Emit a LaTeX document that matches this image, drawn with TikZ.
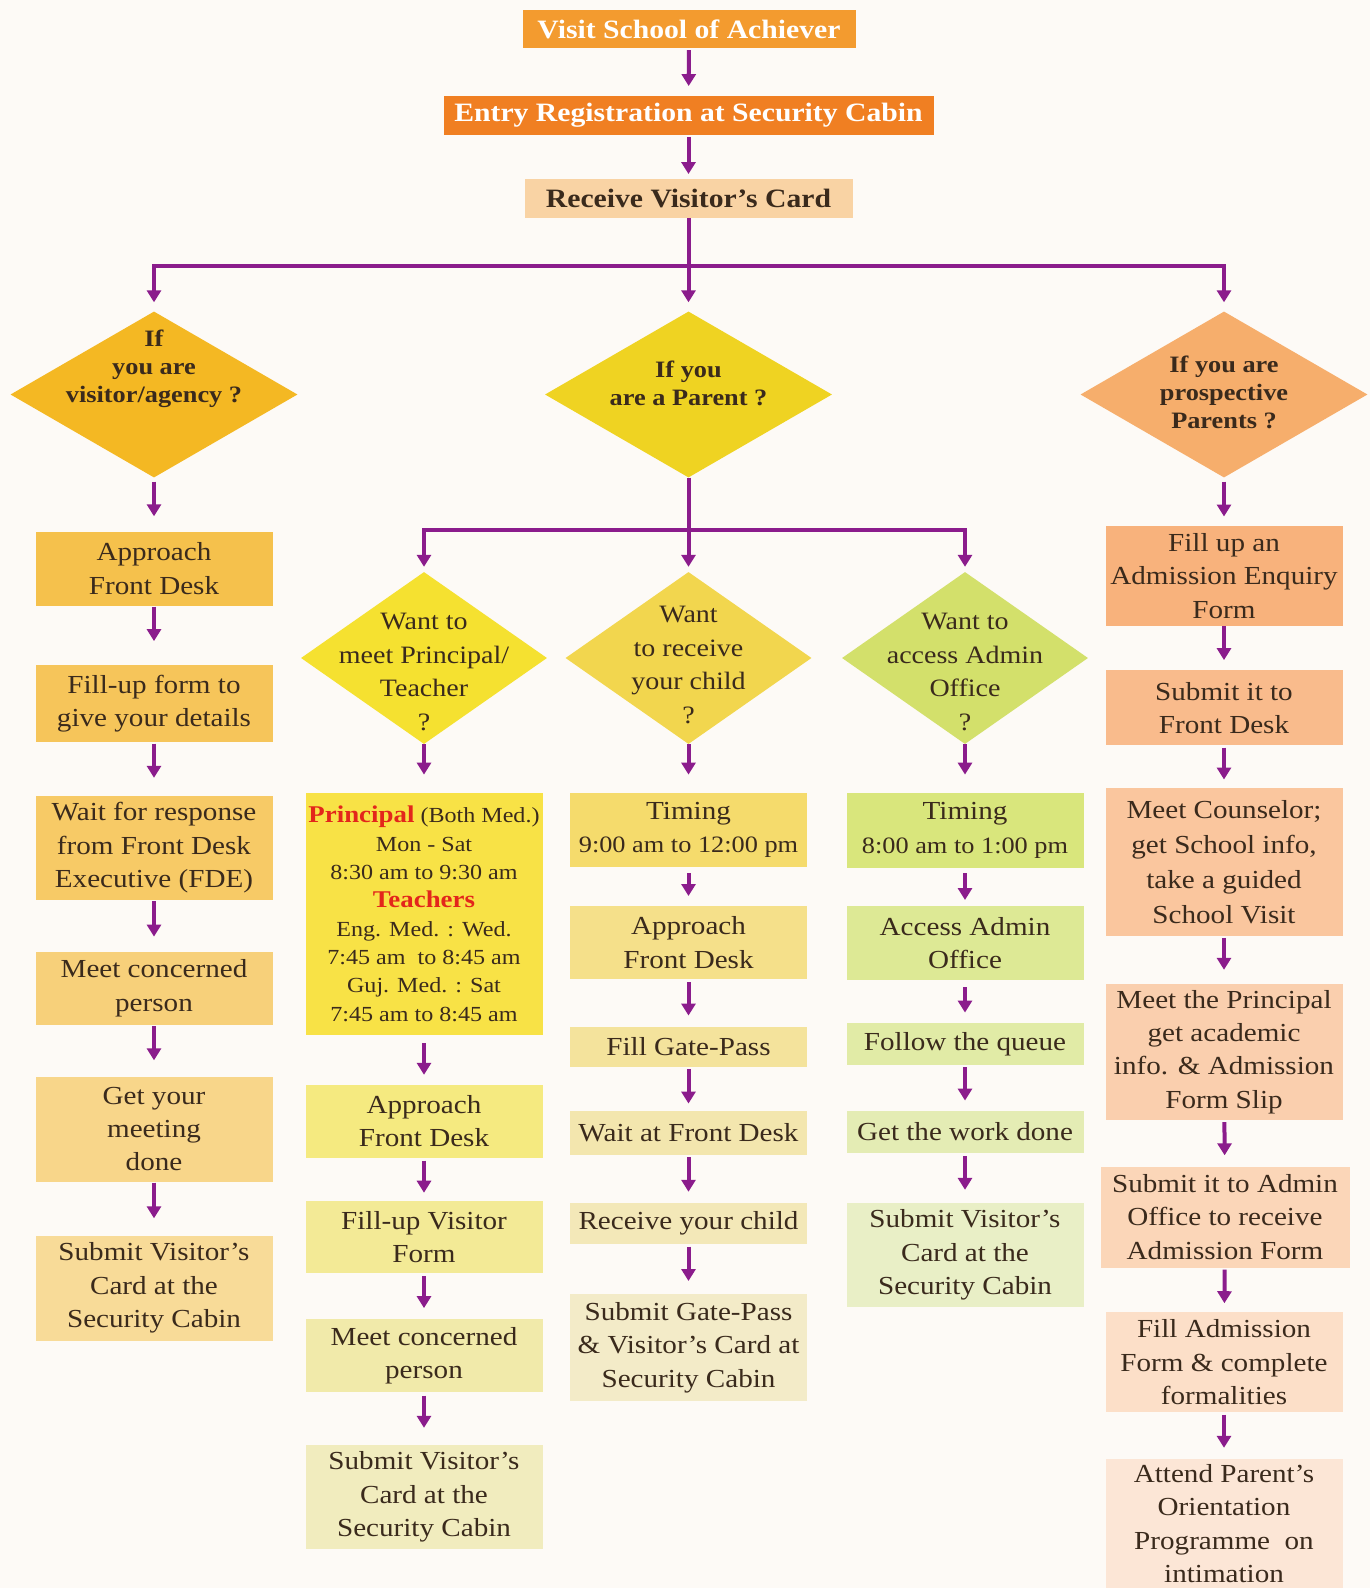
\documentclass[tikz,border=0pt]{standalone}
\usepackage{fontspec}
\setmainfont{Liberation Serif}[FakeStretch=1.12]
\usetikzlibrary{arrows.meta,shapes.geometric}
\definecolor{bgc}{HTML}{FDFAF6}
\definecolor{txt}{HTML}{3A2A1C}
\definecolor{purp}{HTML}{8B1C8C}
\definecolor{redt}{HTML}{E3261B}
\definecolor{cVisit}{HTML}{F39B2F}
\definecolor{cEntry}{HTML}{F07F22}
\definecolor{cRecv}{HTML}{F9D3A4}
\definecolor{dA}{HTML}{F4B823}
\definecolor{dB}{HTML}{EFD322}
\definecolor{dC}{HTML}{F6AE6C}
\definecolor{eA}{HTML}{F5E130}
\definecolor{eB}{HTML}{F2D64E}
\definecolor{eC}{HTML}{D3E06B}
\definecolor{a1c}{HTML}{F5C14C}
\definecolor{a2c}{HTML}{F6C55A}
\definecolor{a3c}{HTML}{F7CA66}
\definecolor{a4c}{HTML}{F7D07A}
\definecolor{a5c}{HTML}{F8D68A}
\definecolor{a6c}{HTML}{F8DB98}
\definecolor{b1c}{HTML}{F8E246}
\definecolor{b2c}{HTML}{F5EA80}
\definecolor{b3c}{HTML}{F3EA96}
\definecolor{b4c}{HTML}{F1EAAA}
\definecolor{b5c}{HTML}{F1ECBE}
\definecolor{c1c}{HTML}{F5DB6C}
\definecolor{c2c}{HTML}{F5E08A}
\definecolor{c3c}{HTML}{F4E39C}
\definecolor{c4c}{HTML}{F3E6AE}
\definecolor{c5c}{HTML}{F3E8B8}
\definecolor{c6c}{HTML}{F3EBC8}
\definecolor{f1c}{HTML}{D9E67C}
\definecolor{f2c}{HTML}{DDE995}
\definecolor{f3c}{HTML}{E1EBA6}
\definecolor{f4c}{HTML}{E4ECB4}
\definecolor{f5c}{HTML}{E9EFC6}
\definecolor{g1c}{HTML}{F8B27C}
\definecolor{g2c}{HTML}{F9BB8C}
\definecolor{g3c}{HTML}{FAC69E}
\definecolor{g4c}{HTML}{FACFAE}
\definecolor{g5c}{HTML}{FBD6B8}
\definecolor{g6c}{HTML}{FCDFC8}
\definecolor{g7c}{HTML}{FCE6D6}
\begin{document}
\begin{tikzpicture}[x=1pt,y=-1pt,
  box/.style={rectangle, inner sep=0pt, align=center, text=txt,
    font=\fontsize{26}{33.4}\selectfont, minimum width=237pt},
  topbox/.style={rectangle, inner sep=0pt, align=center, text=white,
    font=\fontsize{26.5}{30}\selectfont\bfseries},
  dia/.style={diamond, inner sep=0pt, text=txt},
  dtxt1/.style={inner sep=0pt, align=center, text=txt, font=\fontsize{23.5}{28}\selectfont\bfseries},
  dtxt2/.style={inner sep=0pt, align=center, text=txt, font=\fontsize{25}{33.4}\selectfont},
  ln/.style={draw=purp, line width=4pt},
  arr/.style={draw=purp, line width=4pt, -{Triangle[width=14pt,length=12pt]}}]

\fill[bgc] (0,0) rectangle (1370,1588);
\useasboundingbox (0,0) rectangle (1370,1588);

% top
\node[topbox, fill=cVisit, minimum width=333pt, minimum height=38pt] (t1) at (689,29) {Visit School of Achiever};
\node[topbox, fill=cEntry, minimum width=490pt, minimum height=38.5pt] (t2) at (688.5,115.5) {Entry Registration at Security Cabin};
\node[topbox, fill=cRecv, text=txt, minimum width=328pt, minimum height=38.5pt] (t3) at (688.5,198.5) {Receive Visitor’s Card};

% first diamonds
\node[dia, fill=dA, minimum width=287pt, minimum height=166pt] (d1) at (154,394.5) {};
\node[dia, fill=dB, minimum width=287pt, minimum height=166pt] (d2) at (688.5,394.5) {};
\node[dia, fill=dC, minimum width=287pt, minimum height=166pt] (d3) at (1224,394.5) {};
\node[dtxt1, yshift=26pt] (d1t) at (d1.center) {If\\you are\\visitor/agency ?};
\node[dtxt1, yshift=11pt] (d2t) at (d2.center) {If you\\are a Parent ?};
\node[dtxt1, yshift=2pt] (d3t) at (d3.center) {If you are\\prospective\\Parents ?};

% second diamonds
\node[dia, fill=eA, minimum width=246pt, minimum height=172pt] (e1) at (424,658) {};
\node[dia, fill=eB, minimum width=246pt, minimum height=172pt] (e2) at (688.5,658) {};
\node[dia, fill=eC, minimum width=246pt, minimum height=172pt] (e3) at (965,658) {};
\node[dtxt2, yshift=-14pt] (e1t) at (e1.center) {Want to\\meet Principal/\\Teacher\\?};
\node[dtxt2, yshift=-7pt] (e2t) at (e2.center) {Want\\to receive\\your child\\?};
\node[dtxt2, yshift=-14pt] (e3t) at (e3.center) {Want to\\access Admin\\Office\\?};

% column 1
\node[box, fill=a1c, minimum height=74pt] (a1) at (154,568.5) {Approach\\Front Desk};
\node[box, fill=a2c, minimum height=77pt] (a2) at (154,703.8) {Fill-up form to\\give your details};
\node[box, fill=a3c, minimum height=104pt] (a3) at (154,848) {Wait for response\\from Front Desk\\Executive (FDE)};
\node[box, fill=a4c, minimum height=73pt] (a4) at (154,988.3) {Meet concerned\\person};
\node[box, fill=a5c, minimum height=105pt] (a5) at (154,1129) {Get your\\meeting\\done};
\node[box, fill=a6c, minimum height=105pt] (a6) at (154,1288) {Submit Visitor’s\\Card at the\\Security Cabin};

% column 2
\node[box, fill=b1c, minimum height=242pt, font=\fontsize{21.5}{28.3}\selectfont] (b1) at (424,913.8)
  {{\fontsize{24}{28.3}\selectfont\bfseries\textcolor{redt}{Principal}} (Both Med.)\\
   Mon - Sat\\
   8:30 am to 9:30 am\\
   {\fontsize{24}{28.3}\selectfont\bfseries\textcolor{redt}{Teachers}}\\
   Eng. Med. : Wed.\\
   7:45 am\ \ to 8:45 am\\
   Guj. Med. : Sat\\
   7:45 am to 8:45 am};
\node[box, fill=b2c, minimum height=73pt] (b2) at (424,1121) {Approach\\Front Desk};
\node[box, fill=b3c, minimum height=72pt] (b3) at (424,1236.9) {Fill-up Visitor\\Form};
\node[box, fill=b4c, minimum height=73pt] (b4) at (424,1355.8) {Meet concerned\\person};
\node[box, fill=b5c, minimum height=104pt] (b5) at (424,1497) {Submit Visitor’s\\Card at the\\Security Cabin};

% column 3
\node[box, fill=c1c, minimum height=74pt] (c1) at (688.5,829.8) {Timing\\{\fontsize{23.5}{33.4}\selectfont 9:00 am to 12:00 pm}};
\node[box, fill=c2c, minimum height=73pt] (c2) at (688.5,942.7) {Approach\\Front Desk};
\node[box, fill=c3c, minimum height=40.5pt] (c3) at (688.5,1047) {Fill Gate-Pass};
\node[box, fill=c4c, minimum height=44.5pt] (c4) at (688.5,1133) {Wait at Front Desk};
\node[box, fill=c5c, minimum height=41.5pt] (c5) at (688.5,1223.7) {Receive your child};
\node[box, fill=c6c, minimum height=107pt] (c6) at (688.5,1347.7) {Submit Gate-Pass\\\& Visitor’s Card at\\Security Cabin};

% column 4
\node[box, fill=f1c, minimum height=75pt] (f1) at (965,830.3) {Timing\\{\fontsize{23.5}{33.4}\selectfont 8:00 am to 1:00 pm}};
\node[box, fill=f2c, minimum height=74pt] (f2) at (965,943.2) {Access Admin\\Office};
\node[box, fill=f3c, minimum height=42.5pt] (f3) at (965,1044) {Follow the queue};
\node[box, fill=f4c, minimum height=42.5pt] (f4) at (965,1132) {Get the work done};
\node[box, fill=f5c, minimum height=104pt] (f5) at (965,1255) {Submit Visitor’s\\Card at the\\Security Cabin};

% column 5
\node[box, fill=g1c, minimum height=100pt] (g1) at (1224,575.7) {Fill up an\\Admission Enquiry\\Form};
\node[box, fill=g2c, minimum height=75pt] (g2) at (1224,707.8) {Submit it to\\Front Desk};
\node[box, fill=g3c, minimum height=148pt, font=\fontsize{26}{35}\selectfont] (g3) at (1224,861.7) {Meet Counselor;\\get School info,\\take a guided\\School Visit};
\node[box, fill=g4c, minimum height=136pt] (g4) at (1224,1052) {Meet the Principal\\get academic\\info. \& Admission\\Form Slip};
\node[box, fill=g5c, minimum width=249pt, minimum height=101pt] (g5) at (1225,1217) {Submit it to Admin\\Office to receive\\Admission Form};
\node[box, fill=g6c, minimum height=100pt] (g6) at (1224,1362.4) {Fill Admission\\Form \& complete\\formalities};
\node[box, fill=g7c, minimum height=129pt] (g7) at (1224,1523.5) {Attend Parent’s\\Orientation\\Programme\ \ on\\intimation};

% connectors top
\draw[arr, shorten <=2pt, shorten >=10pt] (t1) -- (t2);
\draw[arr, shorten <=2pt, shorten >=5pt] (t2) -- (t3);
\coordinate (hb) at (688.5,266.3);
\draw[ln] (t3.south) -- (hb);
\draw[ln, line cap=rect] (d1.north |- hb) -- (d3.north |- hb);
\draw[arr, shorten >=9pt] (d1.north |- hb) -- (d1.north);
\draw[arr, shorten >=9pt] (hb) -- (d2.north);
\draw[arr, shorten >=9pt] (d3.north |- hb) -- (d3.north);

\draw[arr, shorten <=4pt, shorten >=15pt] (d1.south) -- (a1.north);
\draw[arr, shorten <=4pt, shorten >=9pt] (d3.south) -- (g1.north);
\coordinate (mb) at (688.5,529.6);
\draw[ln] (d2.south) -- (mb);
\draw[ln, line cap=rect] (e1.north |- mb) -- (e3.north |- mb);
\draw[arr, shorten >=5pt] (e1.north |- mb) -- (e1.north);
\draw[arr, shorten >=5pt] (mb) -- (e2.north);
\draw[arr, shorten >=5pt] (e3.north |- mb) -- (e3.north);

\draw[arr, shorten >=18pt] (e1.south) -- (b1.north);
\draw[arr, shorten >=18pt] (e2.south) -- (c1.north);
\draw[arr, shorten >=18pt] (e3.south) -- (f1.north);

% column 1
\draw[arr, shorten <=1pt, shorten >=24pt] (a1) -- (a2);
\draw[arr, shorten <=1pt, shorten >=18pt] (a2) -- (a3);
\draw[arr, shorten <=1pt, shorten >=15pt] (a3) -- (a4);
\draw[arr, shorten <=1pt, shorten >=16pt] (a4) -- (a5);
\draw[arr, shorten <=1pt, shorten >=17pt] (a5) -- (a6);
% column 2
\draw[arr, shorten <=8pt, shorten >=9.5pt] (b1) -- (b2);
\draw[arr, shorten <=3pt, shorten >=8pt] (b2) -- (b3);
\draw[arr, shorten <=3pt, shorten >=11pt] (b3) -- (b4);
\draw[arr, shorten <=3pt, shorten >=17pt] (b4) -- (b5);
% column 3
\draw[arr, shorten <=6pt, shorten >=10pt] (c1) -- (c2);
\draw[arr, shorten <=3pt, shorten >=11pt] (c2) -- (c3);
\draw[arr, shorten <=2pt, shorten >=7pt] (c3) -- (c4);
\draw[arr, shorten <=2pt, shorten >=11pt] (c4) -- (c5);
\draw[arr, shorten <=2pt, shorten >=13pt] (c5) -- (c6);
% column 4
\draw[arr, shorten <=5pt, shorten >=6pt] (f1) -- (f2);
\draw[arr, shorten <=7pt, shorten >=10pt] (f2) -- (f3);
\draw[arr, shorten <=2pt, shorten >=10pt] (f3) -- (f4);
\draw[arr, shorten <=3pt, shorten >=13pt] (f4) -- (f5);
% column 5
\draw[arr, shorten >=10pt] (g1) -- (g2);
\draw[arr, shorten <=2pt, shorten >=8pt] (g2) -- (g3);
\draw[arr, shorten <=2pt, shorten >=14pt] (g3) -- (g4);
\draw[arr, shorten <=2pt, shorten >=11pt] (g4) -- (g5);
\draw[arr, shorten <=2pt, shorten >=9pt] (g5) -- (g6);
\draw[arr, shorten <=2pt, shorten >=11pt] (g6) -- (g7);
\end{tikzpicture}
\end{document}
